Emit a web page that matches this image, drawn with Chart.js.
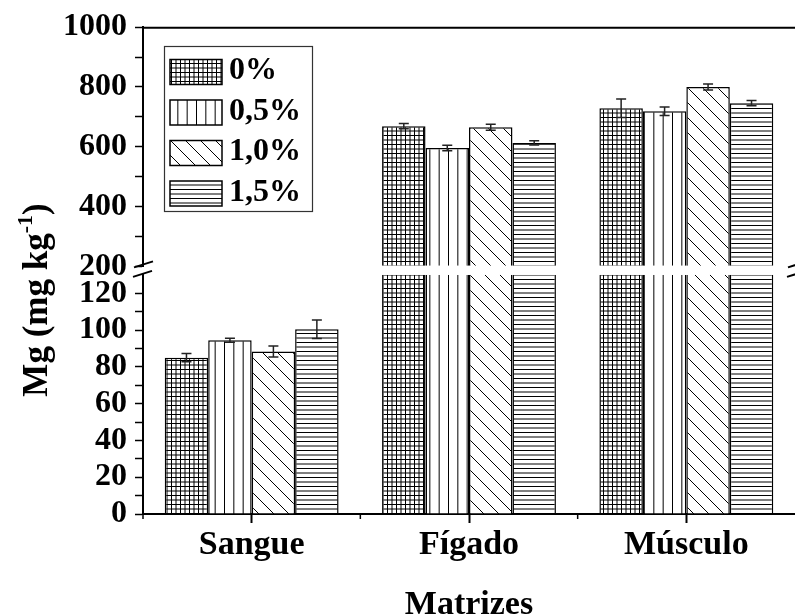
<!DOCTYPE html>
<html><head><meta charset="utf-8">
<script src="https://cdn.jsdelivr.net/npm/chart.js@4"></script>
<style>html,body{margin:0;padding:0;background:#fff}canvas{display:block}</style>
</head><body>
<canvas id="c" width="795" height="616"></canvas>
<script>
// ---- data ----
const categories = ['Sangue', 'Fígado', 'Músculo'];
const seriesLabels = ['0%', '0,5%', '1,0%', '1,5%'];
const mg0  = [85.0, 669, 729];
const mg05 = [94.5, 596, 719];
const mg10 = [88.3, 665, 800];
const mg15 = [100.4, 613, 746];
const err0  = [2.3, 9, 31];
const err05 = [1.1, 9, 14];
const err10 = [3.0, 10, 10];
const err15 = [5.0, 7, 9];
const lowRange = [0, 130];     // lower segment of broken axis
const highRange = [200, 1000]; // upper segment of broken axis
const xTitle = 'Matrizes';
const yTitleMain = 'Mg (mg kg';
const yTitleSup = '-1';
const yTitleEnd = ')';

const LOW_MAX = lowRange[1], HIGH_MIN = highRange[0];
const allSeries = [mg0, mg05, mg10, mg15];
const allErr = [err0, err05, err10, err15];
const FONT = '"Liberation Serif", "Times New Roman", serif';

const canvas = document.getElementById('c');
const mainCtx = canvas.getContext('2d');

function makePattern(kind) {
  const t = document.createElement('canvas');
  const g = t.getContext('2d');
  if (kind === 'grid') { t.width = 9; t.height = 9; }
  else if (kind === 'vert') { t.width = 28; t.height = 4; }
  else if (kind === 'diag') { t.width = 15; t.height = 15; }
  else { t.width = 4; t.height = 9; }
  g.fillStyle = '#fff'; g.fillRect(0, 0, t.width, t.height);
  g.strokeStyle = '#000'; g.lineWidth = 1;
  g.beginPath();
  if (kind === 'grid') {
    [0.5, 5].forEach(p => { g.moveTo(p, 0); g.lineTo(p, 9); g.moveTo(0, p); g.lineTo(9, p); });
  } else if (kind === 'vert') {
    [0.5, 9.83, 19.17].forEach(p => { g.moveTo(p, 0); g.lineTo(p, 4); });
  } else if (kind === 'diag') {
    [-15, 0, 15].forEach(o => { g.moveTo(o - 1, -1); g.lineTo(o + 16, 16); });
  } else {
    [0.5, 5].forEach(p => { g.moveTo(0, p); g.lineTo(4, p); });
  }
  g.stroke();
  return mainCtx.createPattern(t, 'repeat');
}
const patterns = [makePattern('grid'), makePattern('vert'), makePattern('diag'), makePattern('horiz')];

const datasets = [];
allSeries.forEach((vals, i) => {
  datasets.push({
    label: seriesLabels[i],
    data: vals.map(v => Math.min(v, LOW_MAX)),
    yAxisID: 'yLow', stack: 's' + i,
    backgroundColor: patterns[i], borderColor: '#000',
    borderWidth: c => vals[c.dataIndex] > LOW_MAX ? {left: 1.5, right: 1.5, top: 0, bottom: 0} : 1.5,
    borderSkipped: 'start'
  });
  datasets.push({
    label: seriesLabels[i],
    data: vals.map(v => v > HIGH_MIN ? v : null),
    yAxisID: 'yHigh', stack: 's' + i, base: HIGH_MIN,
    backgroundColor: patterns[i], borderColor: '#000', borderWidth: 1.5,
    borderSkipped: 'start'
  });
});

const tickFont = {family: FONT, size: 32, weight: 'bold'};

const decor = {
  id: 'decor',
  afterDatasetsDraw(chart) {
    const ctx = chart.ctx;
    ctx.save();
    ctx.strokeStyle = '#222'; ctx.lineWidth = 1.5;
    allSeries.forEach((vals, i) => {
      vals.forEach((v, j) => {
        const useHigh = v > HIGH_MIN;
        const meta = chart.getDatasetMeta(useHigh ? 2 * i + 1 : 2 * i);
        const sc = chart.scales[useHigh ? 'yHigh' : 'yLow'];
        const x = meta.data[j].x;
        const e = allErr[i][j];
        const yt = sc.getPixelForValue(v + e), yb = sc.getPixelForValue(v - e);
        ctx.beginPath();
        ctx.moveTo(x, yt); ctx.lineTo(x, yb);
        ctx.moveTo(x - 5, yt); ctx.lineTo(x + 5, yt);
        ctx.moveTo(x - 5, yb); ctx.lineTo(x + 5, yb);
        ctx.stroke();
      });
    });
    ctx.restore();
  },
  afterDraw(chart) {
    const ctx = chart.ctx;
    const a = chart.chartArea;
    const xs = chart.scales.x;
    const yH = chart.scales.yHigh, yL = chart.scales.yLow;
    ctx.save();
    ctx.strokeStyle = '#000';
    // top frame line
    ctx.lineWidth = 2;
    ctx.beginPath(); ctx.moveTo(a.left - 1, a.top + 0.5); ctx.lineTo(a.right, a.top + 0.5); ctx.stroke();
    // minor x ticks at category boundaries
    ctx.lineWidth = 1.5;
    const half = (xs.getPixelForValue(1) - xs.getPixelForValue(0)) / 2;
    ctx.beginPath();
    for (let k = 0; k < categories.length; k++) {
      const bx = xs.getPixelForValue(k) - half;
      ctx.moveTo(bx, a.bottom); ctx.lineTo(bx, a.bottom + 5);
    }
    ctx.stroke();
    // break marks
    const yb1 = yH.bottom, yb2 = yL.top;
    ctx.lineWidth = 2;
    [a.left, a.right + 2].forEach(bx => {
      ctx.beginPath();
      ctx.moveTo(bx - 9, yb1 + 1); ctx.lineTo(bx + 10, yb1 - 5);
      ctx.moveTo(bx - 10, yb2 + 2); ctx.lineTo(bx + 9, yb2 - 4);
      ctx.stroke();
    });
    // legend
    ctx.lineWidth = 1.2;
    ctx.strokeStyle = '#333';
    ctx.strokeRect(164.5, 46.5, 148, 165);
    ctx.font = 'bold 32px ' + FONT;
    ctx.textBaseline = 'middle'; ctx.textAlign = 'left';
    ctx.fillStyle = '#000';
    seriesLabels.forEach((lab, k) => {
      const cy = 72 + k * 40.5;
      ctx.fillStyle = patterns[k];
      ctx.fillRect(170, cy - 12.5, 52, 25);
      ctx.strokeStyle = '#000'; ctx.lineWidth = 1.5;
      ctx.strokeRect(170, cy - 12.5, 52, 25);
      ctx.fillStyle = '#000';
      ctx.fillText(lab, 229, cy - 1);
    });
    // x title
    ctx.font = 'bold 34px ' + FONT;
    ctx.textAlign = 'center'; ctx.textBaseline = 'alphabetic';
    ctx.fillText(xTitle, (a.left + a.right) / 2, 614);
    // y title (rotated, with superscript)
    const mainF = 'bold 35px ' + FONT, supF = 'bold 22px ' + FONT;
    ctx.font = mainF; const w1 = ctx.measureText(yTitleMain).width; const w3 = ctx.measureText(yTitleEnd).width;
    ctx.font = supF; const w2 = ctx.measureText(yTitleSup).width;
    const tot = w1 + w2 + w3;
    ctx.translate(47, 300);
    ctx.rotate(-Math.PI / 2);
    ctx.textAlign = 'left';
    let px = -tot / 2;
    ctx.font = mainF; ctx.fillText(yTitleMain, px, 0); px += w1;
    ctx.font = supF; ctx.fillText(yTitleSup, px, -15); px += w2;
    ctx.font = mainF; ctx.fillText(yTitleEnd, px, 0);
    ctx.restore();
  }
};

new Chart(canvas, {
  type: 'bar',
  data: {labels: categories, datasets},
  plugins: [decor],
  options: {
    responsive: false, animation: false, devicePixelRatio: 1,
    categoryPercentage: 0.8, barPercentage: 1.0,
    layout: {padding: {left: 63, top: 27, right: -2, bottom: 0}},
    plugins: {legend: {display: false}, tooltip: {enabled: false}, title: {display: false}},
    scales: {
      x: {
        type: 'category', position: 'bottom', offset: true,
        grid: {display: true, drawOnChartArea: false, offset: false, tickLength: 9, tickWidth: 2, tickColor: '#000'},
        border: {display: true, color: '#000', width: 2},
        ticks: {font: {family: FONT, size: 34, weight: 'bold'}, color: '#000', padding: 2, maxRotation: 0, autoSkip: false},
        afterFit: s => { s.height = 102; }
      },
      yLow: {
        type: 'linear', position: 'left', stack: 'y', stackWeight: 239,
        min: lowRange[0], max: lowRange[1], stacked: false,
        afterBuildTicks: s => { s.ticks = s.ticks.filter(t => t.value < LOW_MAX); },
        ticks: {stepSize: 10, autoSkip: false, callback: v => (v % 20 === 0 ? v : ''), font: tickFont, color: '#000', padding: 8},
        grid: {drawOnChartArea: false, tickLength: 8, tickWidth: 1.5, tickColor: '#000'},
        border: {display: true, color: '#000', width: 2},
        afterFit: s => { s.width = 80; }
      },
      yGap: {
        type: 'linear', position: 'left', stack: 'y', stackWeight: 8.5,
        min: 0, max: 1, display: false
      },
      yHigh: {
        type: 'linear', position: 'left', stack: 'y', stackWeight: 239,
        min: highRange[0], max: highRange[1], stacked: false,
        ticks: {stepSize: 100, autoSkip: false, callback: v => (v % 200 === 0 ? v : ''), font: tickFont, color: '#000', padding: 8},
        grid: {drawOnChartArea: false, tickLength: 8, tickWidth: 1.5, tickColor: '#000'},
        border: {display: true, color: '#000', width: 2},
        afterFit: s => { s.width = 80; }
      }
    }
  }
});
</script>
</body></html>
